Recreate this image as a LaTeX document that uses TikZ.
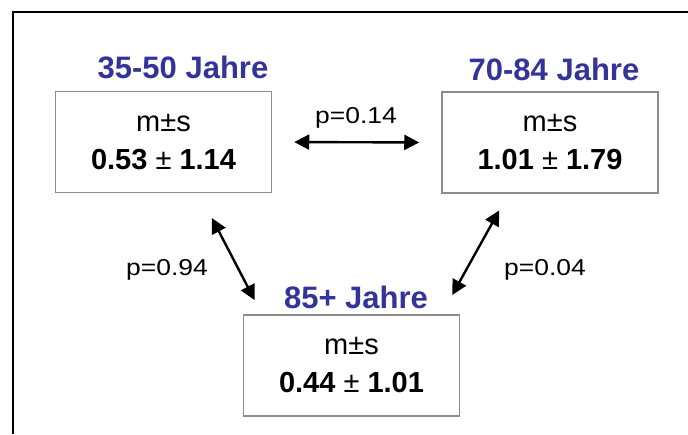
\documentclass[tikz,border=0pt]{standalone}
\usepackage{fontspec}
\setmainfont{Liberation Sans}
\newfontfamily\widesans[FakeStretch=1.15]{Liberation Sans}
\usetikzlibrary{arrows.meta}
\definecolor{jahrblau}{HTML}{333399}
\definecolor{rahmengrau}{HTML}{8C8C8C}

\begin{document}
\begin{tikzpicture}[x=1pt,y=-1pt,
	gruppe/.style={draw=rahmengrau,line width=1.5pt,minimum width=216pt,minimum height=101pt,align=center,font=\fontsize{29}{38}\selectfont},
	titel/.style={anchor=base,text=jahrblau,font=\fontsize{31}{31}\selectfont\bfseries},
	pwert/.style={font=\widesans\fontsize{23}{23}\selectfont},
	doppel/.style={{Triangle[length=15pt,width=15pt]}-{Triangle[length=15pt,width=15pt]},line width=2.4pt}]
	\useasboundingbox (0,0) rectangle (688,434);
	\draw[line width=2pt] (13,434) -- (13,12) -- (688,12);
	\node[gruppe] (jung) at (163.5,142) {m±s\\\textbf{0.53} ± \textbf{1.14}};
	\node[gruppe] (alt) at (550,142.5) {m±s\\\textbf{1.01} ± \textbf{1.79}};
	\node[gruppe] (hochbetagt) at (351.5,365.5) {m±s\\\textbf{0.44} ± \textbf{1.01}};
	\node[titel] (tjung) at (183,78) {35-50 Jahre};
	\node[titel] (talt) at (554,80) {70-84 Jahre};
	\node[titel] (thochbetagt) at (356,308) {85+ Jahre};
	\draw[doppel,shorten <=22pt,shorten >=22pt] (jung.east) -- (alt.west);
	\draw[doppel,shorten <=28pt,shorten >=16pt] ([xshift=35.5pt]jung.south) -- ([xshift=-89.5pt]hochbetagt.north);
	\draw[doppel,shorten <=19pt,shorten >=22pt] ([xshift=-41.5pt]alt.south) -- ([xshift=90pt]hochbetagt.north);
	\node[pwert] (pjungalt) at (356,118) {p=0.14};
	\node[pwert] (pjunghoch) at (167,270) {p=0.94};
	\node[pwert] (palthoch) at (545,270) {p=0.04};
\end{tikzpicture}
\end{document}
